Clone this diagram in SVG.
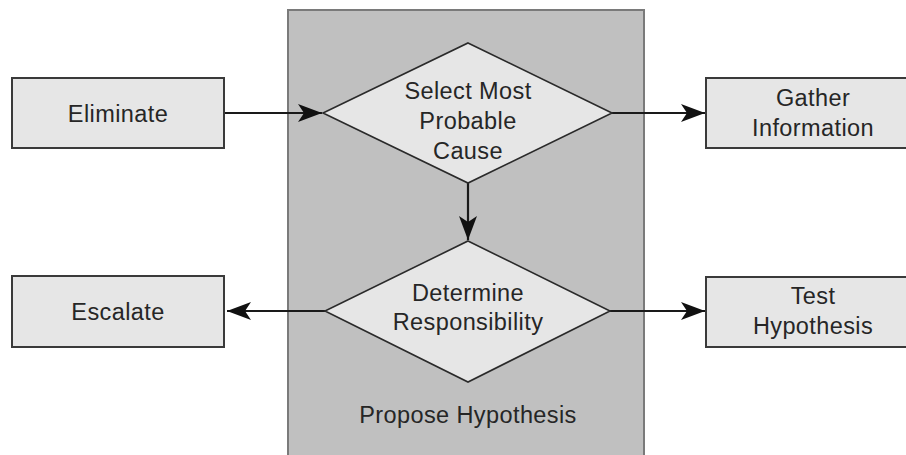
<svg xmlns="http://www.w3.org/2000/svg" width="906" height="455" viewBox="0 0 906 455">
  <style>
    .panel { fill: #c0c0c0; stroke: #7a7a7a; stroke-width: 2; }
    .box { fill: #e6e6e6; stroke: #3a3a3a; stroke-width: 2; }
    .diamond { fill: #e6e6e6; stroke: #2a2a2a; stroke-width: 1.6; }
    .label { font-family: "Liberation Sans", Arial, sans-serif; font-size: 23.5px; fill: #262626; text-anchor: middle; letter-spacing: 0.4px; }
    .link { fill: none; stroke: #1a1a1a; stroke-width: 2.2; }
  </style>
  <defs>
    <marker id="arrow" markerUnits="userSpaceOnUse" markerWidth="26" markerHeight="20" viewBox="0 0 26 20" refX="24" refY="10" orient="auto">
      <path d="M0,1 L24,10 L0,19 L6,10 Z" fill="#111"/>
    </marker>
  </defs>

  <rect width="906" height="455" fill="#ffffff"/>

  <!-- Propose Hypothesis container -->
  <g id="propose-hypothesis">
    <rect class="panel" x="288" y="10" width="356" height="460"/>
    <text class="label" x="468" y="423">Propose Hypothesis</text>
  </g>

  <!-- Connectors -->
  <g id="connectors">
    <line class="link" x1="224" y1="113" x2="322" y2="113" marker-end="url(#arrow)"/>
    <line class="link" x1="612" y1="113" x2="705" y2="113" marker-end="url(#arrow)"/>
    <line class="link" x1="468" y1="183" x2="468" y2="240" marker-end="url(#arrow)"/>
    <line class="link" x1="325" y1="311" x2="227" y2="311" marker-end="url(#arrow)"/>
    <line class="link" x1="610" y1="311" x2="705" y2="311" marker-end="url(#arrow)"/>
  </g>

  <g id="eliminate">
    <rect class="box" x="12" y="78" width="212" height="70"/>
    <text class="label" x="118" y="122">Eliminate</text>
  </g>

  <g id="select-most-probable-cause">
    <polygon class="diamond" points="468,43 612,113 468,183 323,113"/>
    <text class="label" x="468" y="99">Select Most</text>
    <text class="label" x="468" y="129">Probable</text>
    <text class="label" x="468" y="159">Cause</text>
  </g>

  <g id="gather-information">
    <rect class="box" x="706" y="78" width="214" height="70"/>
    <text class="label" x="813" y="106">Gather</text>
    <text class="label" x="813" y="136">Information</text>
  </g>

  <g id="determine-responsibility">
    <polygon class="diamond" points="468,241 610,311 468,382 325,311"/>
    <text class="label" x="468" y="301">Determine</text>
    <text class="label" x="468" y="330">Responsibility</text>
  </g>

  <g id="escalate">
    <rect class="box" x="12" y="276" width="212" height="71"/>
    <text class="label" x="118" y="320">Escalate</text>
  </g>

  <g id="test-hypothesis">
    <rect class="box" x="706" y="277" width="214" height="70"/>
    <text class="label" x="813" y="304">Test</text>
    <text class="label" x="813" y="334">Hypothesis</text>
  </g>
</svg>
